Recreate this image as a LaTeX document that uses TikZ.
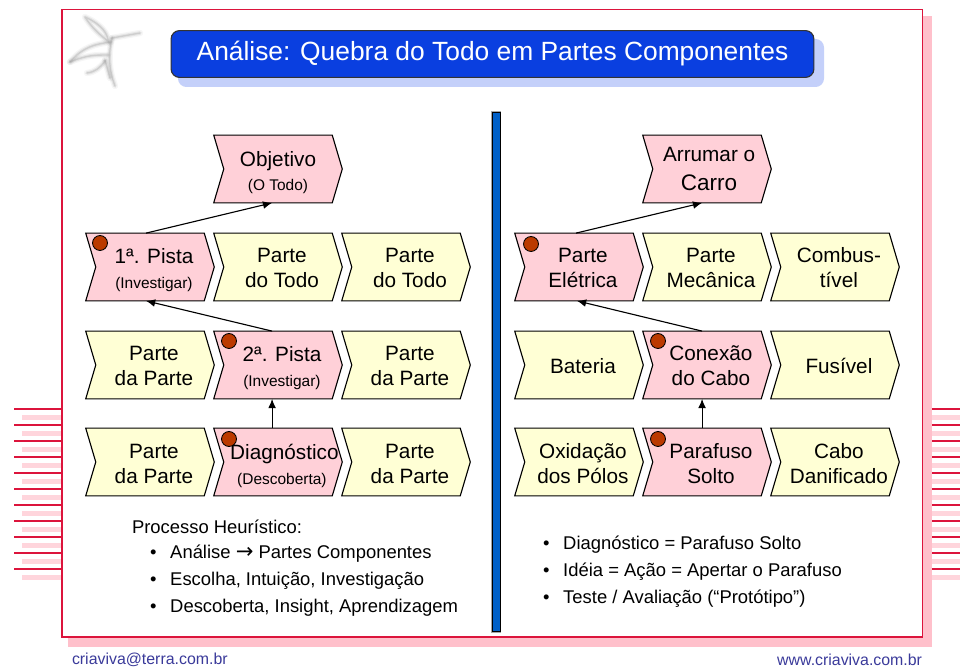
\documentclass[tikz,border=0pt]{standalone}
\usepackage{fontspec}
\setmainfont{Liberation Sans}
\newfontfamily\arrowfont{DejaVu Sans}
\usetikzlibrary{shapes.symbols,arrows.meta}
\definecolor{framered}{HTML}{DC143C}
\definecolor{framepink}{HTML}{FFC0CB}
\definecolor{stripepink}{HTML}{FFD5DC}
\definecolor{titleblue}{HTML}{0A3FE0}
\definecolor{titleshadow}{HTML}{C4D0FA}
\definecolor{barblue}{HTML}{0060C8}
\definecolor{pinkfill}{HTML}{FFD0D8}
\definecolor{yellowfill}{HTML}{FFFFD5}
\definecolor{dotred}{HTML}{BB3A00}
\definecolor{mailblue}{HTML}{3A3A9A}
\newcommand{\blockfont}{\fontsize{14.75}{17.7}\selectfont}
\newcommand{\sml}{\fontsize{11}{16}\selectfont}
\newcommand{\blk}[2][2.4pt]{\makebox[0pt]{\hspace*{5.6pt}\raisebox{-#1}[\height][\depth]{\begin{tabular}{@{}c@{}}#2\end{tabular}}}}
\begin{document}
\begin{tikzpicture}[x=.025cm,y=-.025cm,inner sep=0pt,outer sep=0pt,>={Latex[length=6.5pt,width=5.5pt]},
block/.style={draw,signal,signal from=west,signal to=east,signal pointer angle=147,minimum width=129*.7087pt,minimum height=68*.7087pt,line width=.8pt,align=center,font=\blockfont},
pinkblock/.style={block,fill=pinkfill},
yellowblock/.style={block,fill=yellowfill},
dot/.style={draw,circle,fill=dotred,minimum size=15*.7087pt,line width=.6pt},
listtext/.style={anchor=west,font=\fontsize{13.1}{15}\selectfont}]
\useasboundingbox (0,0) rectangle (960,668);

% stripes
\foreach \i in {0,...,10} {
\fill[stripepink] (22,415+16*\i) rectangle (62,420+16*\i);
\fill[stripepink] (932,415+16*\i) rectangle (960,420+16*\i);
\fill[framered] (14,408.2+16*\i) rectangle (62,410+16*\i);
\fill[framered] (932,408.2+16*\i) rectangle (960,410+16*\i);
}

% frame and title
\fill[framepink] (68,16) rectangle (932,647);
\draw[framered,fill=white,line width=.9pt] (62,9.5) rectangle (922.5,637);
\fill[titleshadow,rounded corners=6pt] (178,39) rectangle (824,87);
\draw (492.5,54) node[draw=black!80,fill=titleblue,rounded corners=6pt,line width=.8pt,minimum width=645*.7087pt,minimum height=47*.7087pt,text=white,font=\fontsize{18.75}{22}\selectfont] (title) {Análise: Quebra do Todo em Partes Componentes};

% leaf
\begin{scope}[line cap=round]
\foreach \w/\o in {4.5/.07,2.6/.14,1/.22} {
\draw[gray,line width=\w pt,opacity=\o] (85,17) .. controls (103,25) and (108,35) .. (108,41) .. controls (100,35) and (92,28) .. (85,17);
\draw[gray,line width=\w pt,opacity=\o] (112,38) .. controls (108,55) and (109,70) .. (115,86);
\draw[gray,line width=\w pt,opacity=\o] (112,38) -- (140,33);
\draw[gray,line width=\w pt,opacity=\o] (70,62) .. controls (83,47) and (95,44) .. (111,42);
\draw[gray,line width=\w pt,opacity=\o] (70,62) .. controls (87,55) and (95,55) .. (108,55);
\draw[gray,line width=\w pt,opacity=\o] (87,73) .. controls (95,72) and (100,68) .. (105,61);
\draw[gray,line width=\w pt,opacity=\o] (105,60) -- (110,78);
}
\end{scope}

% divider
\draw[draw=gray!70,line width=1.8pt] (492,112) rectangle (500,632);
\draw (496,372) node[draw,fill=barblue,line width=.7pt,minimum width=8*.7087pt,minimum height=520*.7087pt] (bar) {};

% left side
\draw (278,169) node[pinkblock] (obj) {\raisebox{-3.2pt}[\height][\depth]{\begin{tabular}{@{}c@{}}Objetivo\\[-1pt]{\sml (O Todo)}\end{tabular}}};
\draw (150,267) node[pinkblock] (pista1) {\blk[3pt]{1ª. Pista\\{\sml(Investigar)}}};
\draw (278,267) node[yellowblock] (todo1) {\blk{Parte\\do Todo}};
\draw (406,267) node[yellowblock] (todo2) {\blk{Parte\\do Todo}};
\draw (150,365) node[yellowblock] (dapa1) {\blk{Parte\\da Parte}};
\draw (278,365) node[pinkblock] (pista2) {\blk[3pt]{2ª. Pista\\{\sml(Investigar)}}};
\draw (406,365) node[yellowblock] (dapa2) {\blk{Parte\\da Parte}};
\draw (150,462) node[yellowblock] (dapa3) {\blk[2.8pt]{Parte\\da Parte}};
\draw (278,462) node[pinkblock] (diag) {\blk[3.6pt]{\hspace*{3.5pt}Diagnóstico\\{\sml(Descoberta)}}};
\draw (406,462) node[yellowblock] (dapa4) {\blk[2.8pt]{Parte\\da Parte}};

\draw[->,line width=.8pt] ([xshift=-2.8pt]pista1.north) -- ([xshift=-4.2pt]obj.south);
\draw[->,line width=.8pt] ([xshift=-4.2pt]pista2.north) -- ([xshift=-2.8pt]pista1.south);
\draw[->,line width=.8pt] ([xshift=-4.2pt]diag.north) -- ([xshift=-4.2pt]pista2.south);

% right side
\draw (707,169) node[pinkblock] (carro) {\raisebox{-1.2pt}[\height][\depth]{\hspace*{3pt}\begin{tabular}{@{}c@{}}Arrumar o\\[3pt]{\fontsize{16}{18}\selectfont Carro}\end{tabular}}};
\draw (579,267) node[pinkblock] (eletr) {\blk[2pt]{Parte\\Elétrica}};
\draw (707,267) node[yellowblock] (mecan) {\blk{Parte\\Mecânica}};
\draw (835,267) node[yellowblock] (combu) {\blk{Combus-\\tível}};
\draw (579,365) node[yellowblock] (bater) {\blk[2.8pt]{Bateria}};
\draw (707,365) node[pinkblock] (conex) {\blk{Conexão\\do Cabo}};
\draw (835,365) node[yellowblock] (fusiv) {\blk[2.8pt]{Fusível}};
\draw (579,462) node[yellowblock] (oxida) {\blk[2.8pt]{Oxidação\\dos Pólos}};
\draw (707,462) node[pinkblock] (paraf) {\blk[2.8pt]{Parafuso\\Solto}};
\draw (835,462) node[yellowblock] (dani) {\blk[2.8pt]{Cabo\\Danificado}};

\draw[->,line width=.8pt] ([xshift=-2.1pt]eletr.north) -- ([xshift=-3.5pt]carro.south);
\draw[->,line width=.8pt] ([xshift=-3.5pt]conex.north) -- ([xshift=-1.4pt]eletr.south);
\draw[->,line width=.8pt] ([xshift=-3.5pt]paraf.north) -- ([xshift=-3.5pt]conex.south);

% dots
\draw (100,243) node[dot] (dot1) {};
\draw (229,341) node[dot] (dot2) {};
\draw (229,439) node[dot] (dot3) {};
\draw (531,244) node[dot] (dot4) {};
\draw (658,341) node[dot] (dot5) {};
\draw (658,439) node[dot] (dot6) {};

% lists
\draw (132,527) node[listtext] (head) {Processo Heurístico:};
\draw (150,554) node[listtext] (left1) {•\hspace{9.8pt}Análise {\arrowfont\fontsize{15}{15}\selectfont→} Partes Componentes};
\draw (150,581) node[listtext] (left2) {•\hspace{9.8pt}Escolha, Intuição, Investigação};
\draw (150,608) node[listtext] (left3) {•\hspace{9.8pt}Descoberta, Insight, Aprendizagem};
\draw (543,545) node[listtext] (right1) {•\hspace{9.8pt}Diagnóstico = Parafuso Solto};
\draw (543,572) node[listtext] (right2) {•\hspace{9.8pt}Idéia = Ação = Apertar o Parafuso};
\draw (543,599) node[listtext] (right3) {•\hspace{9.8pt}Teste / Avaliação (“Protótipo”)};

% footer
\draw (72,660) node[anchor=west,text=mailblue,font=\fontsize{11.3}{13}\selectfont] (mail) {criaviva@terra.com.br};
\draw (922,660) node[anchor=east,text=mailblue,font=\fontsize{11.3}{13}\selectfont] (site) {www.criaviva.com.br};
\end{tikzpicture}
\end{document}
